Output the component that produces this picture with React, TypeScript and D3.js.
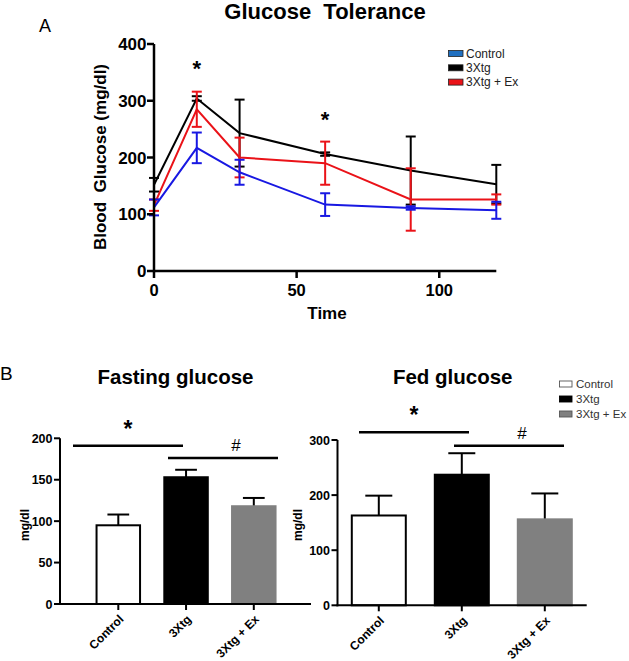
import React from "react";
import * as d3 from "d3";

// ---------- Panel A data ----------
const times = [0, 15, 30, 60, 90, 120];
const controlMean = [112, 217, 174, 117, 111, 107];
const controlErr = [14, 27, 22, 20, 3, 15];
const tgMean = [152, 304, 243, 206, 177, 153];
const tgErr = [12, 4, 59, 3, 60, 34];
const exMean = [116, 285, 200, 190, 126, 126];
const exErr = [10, 31, 35, 38, 55, 9];
const yTicksA = [0, 100, 200, 300, 400];
const xTicksA = [0, 50, 100];
const legendA = ["Control", "3Xtg", "3Xtg + Ex"];
const starTimesA = [15, 60];

// ---------- Panel B data ----------
const groups = ["Control", "3Xtg", "3Xtg + Ex"];
const fastingMean = [95, 153, 118];
const fastingErr = [13, 9, 10];
const fedMean = [163, 237, 156];
const fedErr = [36, 39, 47];
const yTicksFasting = [0, 50, 100, 150, 200];
const yTicksFed = [0, 100, 200, 300];

const FONT = "Liberation Sans, Arial, Helvetica, sans-serif";

const seriesA = [
  { name: "3Xtg", mean: tgMean, err: tgErr, color: "#000000" },
  { name: "3Xtg + Ex", mean: exMean, err: exErr, color: "#ea1218" },
  { name: "Control", mean: controlMean, err: controlErr, color: "#1818e2" },
];
const legendColorsA = ["#1f6fc0", "#000000", "#ea1218"];

const barFills = ["#ffffff", "#000000", "#808080"];
const barStrokes = ["#000000", "#000000", "#808080"];

function PanelA() {
  const x = d3.scaleLinear().domain([0, 120]).range([154, 496.3]);
  const y = d3.scaleLinear().domain([0, 400]).range([271, 44]);
  const line = d3
    .line<number>()
    .x((_, i) => x(times[i]))
    .y((d) => y(d));
  return (
    <g fontFamily={FONT}>
      <text x={39} y={32} fontSize={18}>A</text>
      <text x={325} y={19} fontSize={22} fontWeight="bold" textAnchor="middle" xmlSpace="preserve">
        Glucose  Tolerance
      </text>
      {seriesA.map((s) => (
        <g key={s.name}>
          <path d={line(s.mean) || ""} fill="none" stroke={s.color} strokeWidth={2} />
          {s.mean.map((m, i) => {
            const cx = x(times[i]);
            return (
              <g key={i} stroke={s.color} strokeWidth={2}>
                <line x1={cx} x2={cx} y1={y(m - s.err[i])} y2={y(m + s.err[i])} />
                <line x1={cx - 5} x2={cx + 5} y1={y(m + s.err[i])} y2={y(m + s.err[i])} />
                <line x1={cx - 5} x2={cx + 5} y1={y(m - s.err[i])} y2={y(m - s.err[i])} />
              </g>
            );
          })}
        </g>
      ))}
      {/* axes */}
      <line x1={154} x2={154} y1={y(400)} y2={y(0) + 1.2} stroke="#000" strokeWidth={2.5} />
      <line x1={153} x2={x(120)} y1={y(0)} y2={y(0)} stroke="#000" strokeWidth={2.5} />
      {yTicksA.map((t) => (
        <g key={t}>
          <line x1={147} x2={154} y1={y(t)} y2={y(t)} stroke="#000" strokeWidth={2.5} />
          <text x={146.5} y={y(t)} dy="0.36em" fontSize={17} fontWeight="bold" textAnchor="end">
            {t}
          </text>
        </g>
      ))}
      {xTicksA.map((t) => (
        <g key={t}>
          <line x1={x(t)} x2={x(t)} y1={y(0)} y2={y(0) + 7} stroke="#000" strokeWidth={2.5} />
          <text x={x(t)} y={296} fontSize={16.5} fontWeight="bold" textAnchor="middle">
            {t}
          </text>
        </g>
      ))}
      <text x={327} y={319} fontSize={17} fontWeight="bold" textAnchor="middle">Time</text>
      <text
        transform={`translate(106,157) rotate(-90)`}
        fontSize={17}
        fontWeight="bold"
        textAnchor="middle"
        xmlSpace="preserve"
      >
        Blood  Glucose (mg/dl)
      </text>
      {starTimesA.map((t, i) => (
        <text key={t} x={x(t)} y={i === 0 ? 76 : 127} fontSize={22} fontWeight="bold" textAnchor="middle">
          *
        </text>
      ))}
      {legendA.map((l, i) => (
        <g key={l}>
          <rect x={448.5} y={50.5 + i * 14.3} width={14.5} height={6} fill={legendColorsA[i]} stroke="#222" strokeWidth={0.8} />
          <text x={466} y={53.5 + i * 14.3} dy="0.35em" fontSize={12} fill="#222">
            {l}
          </text>
        </g>
      ))}
    </g>
  );
}

interface BarProps {
  title: string;
  titleX: number;
  means: number[];
  errs: number[];
  yTicks: number[];
  yMax: number;
  y0: number;
  yTop: number;
  axisX: number;
  axisEnd: number;
  centers: [number, number];
  barW: number;
  starY: number;
  starLine: [number, number];
  hashY: number;
  hashLine: [number, number];
  labelX: number;
}

function BarPanel(p: BarProps) {
  const y = d3.scaleLinear().domain([0, p.yMax]).range([p.y0, p.yTop]);
  const xc = d3.scalePoint<string>().domain(groups).range(p.centers);
  const capW = p.barW / 2;
  return (
    <g fontFamily={FONT}>
      <text x={p.titleX} y={383.5} fontSize={20.5} fontWeight="bold" textAnchor="middle">
        {p.title}
      </text>
      {groups.map((g, i) => {
        const cx = xc(g) as number;
        const top = y(p.means[i]);
        const et = y(p.means[i] + p.errs[i]);
        return (
          <g key={g}>
            <line x1={cx} x2={cx} y1={top} y2={et} stroke="#000" strokeWidth={2} />
            <line x1={cx - capW / 2} x2={cx + capW / 2} y1={et} y2={et} stroke="#000" strokeWidth={2} />
            <rect
              x={cx - p.barW / 2}
              y={top}
              width={p.barW}
              height={p.y0 - top}
              fill={barFills[i]}
              stroke={barStrokes[i]}
              strokeWidth={2}
            />
          </g>
        );
      })}
      <line x1={p.axisX} x2={p.axisX} y1={p.yTop} y2={p.y0 + 1} stroke="#000" strokeWidth={2} />
      <line x1={p.axisX - 1} x2={p.axisEnd} y1={p.y0} y2={p.y0} stroke="#000" strokeWidth={2} />
      {p.yTicks.map((t) => (
        <g key={t}>
          <line x1={p.axisX - 6} x2={p.axisX} y1={y(t)} y2={y(t)} stroke="#000" strokeWidth={2} />
          <text x={p.axisX - 7.5} y={y(t)} dy="0.36em" fontSize={12.5} fontWeight="bold" textAnchor="end">
            {t}
          </text>
        </g>
      ))}
      {groups.map((g) => {
        const cx = xc(g) as number;
        return (
          <g key={g}>
            <line x1={cx} x2={cx} y1={p.y0} y2={p.y0 + 6} stroke="#000" strokeWidth={2} />
            <text
              transform={`translate(${cx + 3},${p.y0 + 13}) rotate(-45)`}
              fontSize={12}
              fontWeight="bold"
              textAnchor="end"
              dy="0.35em"
            >
              {g}
            </text>
          </g>
        );
      })}
      <text
        transform={`translate(${p.labelX},${525}) rotate(-90)`}
        fontSize={12}
        fontWeight="bold"
        textAnchor="middle"
      >
        mg/dl
      </text>
      <line x1={p.starLine[0]} x2={p.starLine[1]} y1={p.starY} y2={p.starY} stroke="#000" strokeWidth={2.5} />
      <text x={(p.starLine[0] + p.starLine[1]) / 2} y={p.starY - 9} fontSize={23} fontWeight="bold" textAnchor="middle">
        *
      </text>
      <line x1={p.hashLine[0]} x2={p.hashLine[1]} y1={p.hashY} y2={p.hashY} stroke="#000" strokeWidth={2.5} />
      <text x={(p.hashLine[0] + p.hashLine[1]) / 2 + 13} y={p.hashY - 7} fontSize={17} textAnchor="middle">
        #
      </text>
    </g>
  );
}

export default function App() {
  return (
    <svg width={629} height={661} style={{ display: "block", position: "absolute", left: 0, top: 0 }}>
      <rect width={629} height={661} fill="#fff" />
      <PanelA />
      <text x={0} y={380} fontSize={19} fontFamily={FONT}>B</text>
      <BarPanel
        title="Fasting glucose"
        titleX={175.5}
        means={fastingMean}
        errs={fastingErr}
        yTicks={yTicksFasting}
        yMax={200}
        y0={604}
        yTop={438.3}
        axisX={60}
        axisEnd={311}
        centers={[118.3, 253.8]}
        barW={43.5}
        starY={445.7}
        starLine={[73, 183]}
        hashY={458}
        hashLine={[168, 278]}
        labelX={29}
      />
      <BarPanel
        title="Fed glucose"
        titleX={452.7}
        means={fedMean}
        errs={fedErr}
        yTicks={yTicksFed}
        yMax={300}
        y0={605.3}
        yTop={440}
        axisX={337.5}
        axisEnd={586.7}
        centers={[378.8, 544.8]}
        barW={54}
        starY={432.3}
        starLine={[359, 469]}
        hashY={445.7}
        hashLine={[454, 564]}
        labelX={302}
      />
      <g fontFamily={FONT}>
        {groups.map((g, i) => (
          <g key={g}>
            <rect
              x={559.5}
              y={381 + i * 15}
              width={12.5}
              height={6}
              fill={barFills[i]}
              stroke={i === 1 ? "#000" : "#555"}
              strokeWidth={0.9}
            />
            <text x={576} y={384 + i * 15} dy="0.35em" fontSize={11.5} fill="#333">
              {g}
            </text>
          </g>
        ))}
      </g>
    </svg>
  );
}
